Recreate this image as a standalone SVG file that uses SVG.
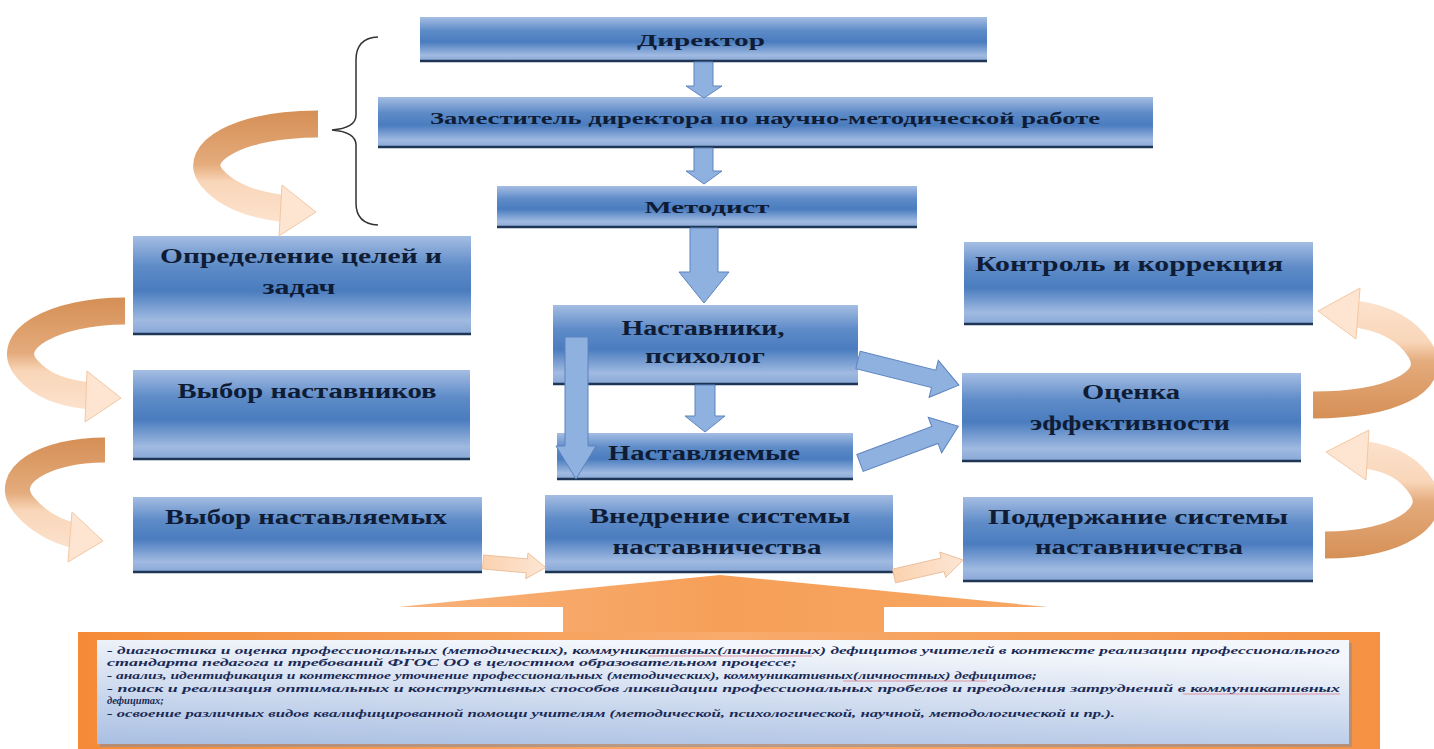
<svg xmlns="http://www.w3.org/2000/svg" width="1434" height="749" viewBox="0 0 1434 749">
<style>
.box{fill:url(#bg);}
.edge{stroke:#1e3555;stroke-width:2.5;}
.t{font-family:"Liberation Serif","Times New Roman",serif;font-weight:bold;fill:#0f1c35;text-anchor:middle;}
.s{font-family:"Liberation Serif","Times New Roman",serif;font-weight:bold;font-style:italic;fill:#1a2a55;font-size:10.5px;}
.barrow{fill:#8fb1e0;stroke:#5d83bf;stroke-width:1;}
.oarrow{fill:url(#og);stroke:#e8b890;stroke-width:0.8;}
.ul{stroke:#e07080;stroke-width:1;opacity:0.7;}
</style>
<defs>
<linearGradient id="bg" x1="0" y1="0" x2="0" y2="1">
<stop offset="0" stop-color="#a5bde3"/>
<stop offset="0.3" stop-color="#5f8cc8"/>
<stop offset="0.55" stop-color="#4a7cbf"/>
<stop offset="0.85" stop-color="#a0bae1"/>
<stop offset="1" stop-color="#86a6d6"/>
</linearGradient>
<linearGradient id="og" x1="0" y1="0" x2="1" y2="0">
<stop offset="0" stop-color="#fbd2b0"/>
<stop offset="1" stop-color="#fde6d4"/>
</linearGradient>
<linearGradient id="cgL1" gradientUnits="userSpaceOnUse" x1="0" y1="110" x2="0" y2="230">
<stop offset="0" stop-color="#d58f55"/><stop offset="0.45" stop-color="#e4ab7c"/><stop offset="0.6" stop-color="#f9d6b9"/><stop offset="1" stop-color="#fde5d2"/>
</linearGradient>
<linearGradient id="cgL2" gradientUnits="userSpaceOnUse" x1="0" y1="298" x2="0" y2="420">
<stop offset="0" stop-color="#d58f55"/><stop offset="0.45" stop-color="#e4ab7c"/><stop offset="0.6" stop-color="#f9d6b9"/><stop offset="1" stop-color="#fde5d2"/>
</linearGradient>
<linearGradient id="cgL3" gradientUnits="userSpaceOnUse" x1="0" y1="437" x2="0" y2="560">
<stop offset="0" stop-color="#d58f55"/><stop offset="0.45" stop-color="#e4ab7c"/><stop offset="0.6" stop-color="#f9d6b9"/><stop offset="1" stop-color="#fde5d2"/>
</linearGradient>
<linearGradient id="cgR1" gradientUnits="userSpaceOnUse" x1="0" y1="420" x2="0" y2="290">
<stop offset="0" stop-color="#d58f55"/><stop offset="0.45" stop-color="#e4ab7c"/><stop offset="0.6" stop-color="#f9d6b9"/><stop offset="1" stop-color="#fde5d2"/>
</linearGradient>
<linearGradient id="cgR2" gradientUnits="userSpaceOnUse" x1="0" y1="560" x2="0" y2="430">
<stop offset="0" stop-color="#d58f55"/><stop offset="0.45" stop-color="#e4ab7c"/><stop offset="0.6" stop-color="#f9d6b9"/><stop offset="1" stop-color="#fde5d2"/>
</linearGradient>
<linearGradient id="bigA" x1="0" y1="0" x2="1" y2="0">
<stop offset="0" stop-color="#f8b27a"/><stop offset="0.5" stop-color="#f69f58"/><stop offset="1" stop-color="#f7a764"/>
</linearGradient>
<linearGradient id="obox" x1="0" y1="0" x2="1" y2="0">
<stop offset="0" stop-color="#f58b37"/><stop offset="0.5" stop-color="#f8ab6d"/><stop offset="1" stop-color="#f59142"/>
</linearGradient>
<linearGradient id="ibox" x1="0" y1="1" x2="0.3" y2="0">
<stop offset="0" stop-color="#a9bfe2"/><stop offset="1" stop-color="#f3f6fb"/>
</linearGradient>
</defs>
<rect width="1434" height="749" fill="#ffffff"/>

<g id="n-director">
<rect class="box" x="420" y="17" width="567" height="45"/>
<line class="edge" x1="420" y1="61" x2="987" y2="61"/>
<text class="t" x="701" y="46" font-size="17" textLength="128" lengthAdjust="spacingAndGlyphs">Директор</text>
</g>
<g id="n-deputy">
<rect class="box" x="378" y="97" width="775" height="51"/>
<line class="edge" x1="378" y1="147" x2="1153" y2="147"/>
<text class="t" x="765" y="124" font-size="16" textLength="670" lengthAdjust="spacingAndGlyphs">Заместитель директора по научно-методической работе</text>
</g>
<g id="n-methodist">
<rect class="box" x="497" y="186" width="420" height="42"/>
<line class="edge" x1="497" y1="227" x2="917" y2="227"/>
<text class="t" x="707" y="213" font-size="17" textLength="125" lengthAdjust="spacingAndGlyphs">Методист</text>
</g>
<g id="n-goals">
<rect class="box" x="133" y="236" width="338" height="99"/>
<line class="edge" x1="133" y1="334" x2="471" y2="334"/>
<text class="t" x="301" y="263" font-size="20" textLength="282" lengthAdjust="spacingAndGlyphs">Определение целей и</text>
<text class="t" x="299" y="294" font-size="20" textLength="73" lengthAdjust="spacingAndGlyphs">задач</text>
</g>
<g id="n-mentors-choice">
<rect class="box" x="133" y="370" width="337" height="90"/>
<line class="edge" x1="133" y1="459" x2="470" y2="459"/>
<text class="t" x="307" y="398" font-size="20" textLength="259" lengthAdjust="spacingAndGlyphs">Выбор наставников</text>
</g>
<g id="n-mentees-choice">
<rect class="box" x="133" y="497" width="349" height="76"/>
<line class="edge" x1="133" y1="572" x2="482" y2="572"/>
<text class="t" x="306" y="524" font-size="20" textLength="282" lengthAdjust="spacingAndGlyphs">Выбор наставляемых</text>
</g>
<g id="n-mentors">
<rect class="box" x="553" y="305" width="305" height="80"/>
<line class="edge" x1="553" y1="384" x2="858" y2="384"/>
<text class="t" x="703" y="335" font-size="20" textLength="163" lengthAdjust="spacingAndGlyphs">Наставники,</text>
<text class="t" x="705" y="363" font-size="20" textLength="120" lengthAdjust="spacingAndGlyphs">психолог</text>
</g>
<g id="n-mentees">
<rect class="box" x="557" y="433" width="296" height="47"/>
<line class="edge" x1="557" y1="479" x2="853" y2="479"/>
<text class="t" x="704" y="460" font-size="20" textLength="192" lengthAdjust="spacingAndGlyphs">Наставляемые</text>
</g>
<g id="n-implementation">
<rect class="box" x="545" y="495" width="348" height="78"/>
<line class="edge" x1="545" y1="572" x2="893" y2="572"/>
<text class="t" x="720" y="523" font-size="20" textLength="261" lengthAdjust="spacingAndGlyphs">Внедрение системы</text>
<text class="t" x="717" y="554" font-size="20" textLength="209" lengthAdjust="spacingAndGlyphs">наставничества</text>
</g>
<g id="n-control">
<rect class="box" x="964" y="242" width="349" height="83"/>
<line class="edge" x1="964" y1="324" x2="1313" y2="324"/>
<text class="t" x="1129" y="271" font-size="20" textLength="308" lengthAdjust="spacingAndGlyphs">Контроль  и коррекция</text>
</g>
<g id="n-evaluation">
<rect class="box" x="962" y="373" width="339" height="89"/>
<line class="edge" x1="962" y1="461" x2="1301" y2="461"/>
<text class="t" x="1131" y="399" font-size="20" textLength="98" lengthAdjust="spacingAndGlyphs">Оценка</text>
<text class="t" x="1130" y="430" font-size="20" textLength="200" lengthAdjust="spacingAndGlyphs">эффективности</text>
</g>
<g id="n-support">
<rect class="box" x="963" y="497" width="350" height="85"/>
<line class="edge" x1="963" y1="581" x2="1313" y2="581"/>
<text class="t" x="1138" y="524" font-size="20" textLength="300" lengthAdjust="spacingAndGlyphs">Поддержание системы</text>
<text class="t" x="1139" y="554" font-size="20" textLength="208" lengthAdjust="spacingAndGlyphs">наставничества</text>
</g>

<g id="n-tasks">
<rect x="78" y="632" width="1302" height="117" fill="url(#obox)"/>
<rect x="100" y="643" width="1252" height="104" fill="#7a8aa8" opacity="0.5"/>
<rect x="97" y="640" width="1252" height="104" fill="url(#ibox)"/>
<text class="s" x="107" y="654" textLength="1233" lengthAdjust="spacingAndGlyphs">- диагностика и оценка профессиональных (методических), коммуникативных(личностных) дефицитов учителей в контексте реализации профессионального</text>
<text class="s" x="107" y="666" textLength="690" lengthAdjust="spacingAndGlyphs">стандарта педагога и требований ФГОС ОО в целостном образовательном процессе;</text>
<text class="s" x="107" y="679" textLength="930" lengthAdjust="spacingAndGlyphs">- анализ, идентификация и контекстное уточнение профессиональных (методических), коммуникативных(личностных) дефицитов;</text>
<text class="s" x="107" y="692" textLength="1233" lengthAdjust="spacingAndGlyphs">- поиск и реализация оптимальных и конструктивных способов ликвидации профессиональных пробелов и преодоления затруднений в коммуникативных</text>
<text class="s" x="107" y="704">дефицитах;</text>
<text class="s" x="107" y="717" textLength="1008" lengthAdjust="spacingAndGlyphs">- освоение различных видов квалифицированной помощи учителям (методической, психологической, научной, методологической и пр.).</text>
<line class="ul" x1="648" y1="656" x2="812" y2="656"/>
<line class="ul" x1="843" y1="681" x2="987" y2="681"/>
<line class="ul" x1="1183" y1="694" x2="1340" y2="694"/>
</g>

<g id="connectors">
<!-- curly brace -->
<path d="M 378 37 Q 356 38 356 60 L 356 115 Q 356 128 332 130 Q 356 132 356 145 L 356 203 Q 356 224 378 225" fill="none" stroke="#333" stroke-width="1.5"/>
<!-- blue vertical arrows -->
<polygon class="barrow" points="694,62 713,62 713,86 722,86 704,98 686,86 694,86"/>
<polygon class="barrow" points="694,148 713,148 713,171 722,171 704,184 686,171 694,171"/>
<polygon class="barrow" points="690,228 718,228 718,272 729,272 704,303 679,272 690,272"/>
<polygon class="barrow" points="695,385 715,385 715,416 725,416 705,432 685,416 695,416"/>
<polygon class="barrow" points="565,337 588,337 588,446 596,446 576,479 556,446 565,446"/>
<!-- blue diagonal arrows -->
<polygon class="barrow" transform="translate(858,360) rotate(14)" points="0,-9 78,-9 78,-19 104,0 78,19 78,9 0,9"/>
<polygon class="barrow" transform="translate(860,463) rotate(-20.5)" points="0,-9 80,-9 80,-19 105,0 80,19 80,9 0,9"/>
<!-- small orange arrows -->
<polygon class="oarrow" transform="translate(483,562) rotate(5)" points="0,-7 44,-7 44,-13 63,0 44,13 44,7 0,7"/>
<polygon class="oarrow" transform="translate(894,576) rotate(-13)" points="0,-7 50,-7 50,-13 71,0 50,13 50,7 0,7"/>
<!-- curved arrows left -->
<path d="M 318 124 C 240 124 190 152 212 178 C 228 197 258 206 287 209" fill="none" stroke="url(#cgL1)" stroke-width="27"/>
<polygon points="282,185 316,212 279,236" fill="#fde5d2" stroke="#f2c8a4" stroke-width="1"/>
<path d="M 125 311 C 55 311 0 340 28 370 C 42 386 66 394 92 396" fill="none" stroke="url(#cgL2)" stroke-width="27"/>
<polygon points="87,371 121,398 85,422" fill="#fde5d2" stroke="#f2c8a4" stroke-width="1"/>
<path d="M 105 450 C 45 450 0 476 24 505 C 38 522 58 532 76 536" fill="none" stroke="url(#cgL3)" stroke-width="25"/>
<polygon points="72,512 103,541 68,562" fill="#fde5d2" stroke="#f2c8a4" stroke-width="1"/>
<!-- curved arrows right -->
<path d="M 1313 405 C 1390 405 1440 382 1420 350 C 1406 328 1384 318 1356 314" fill="none" stroke="url(#cgR1)" stroke-width="27"/>
<polygon points="1360,288 1318,311 1356,339" fill="#fde5d2" stroke="#f2c8a4" stroke-width="1"/>
<path d="M 1325 545 C 1400 545 1440 515 1422 488 C 1408 466 1388 458 1366 455" fill="none" stroke="url(#cgR2)" stroke-width="27"/>
<polygon points="1369,430 1326,452 1366,480" fill="#fde5d2" stroke="#f2c8a4" stroke-width="1"/>
<!-- big orange up arrow -->
<polygon points="398,607 720,575 1048,607 884,607 884,632 563,632 563,607" fill="url(#bigA)"/>
</g>
</svg>
